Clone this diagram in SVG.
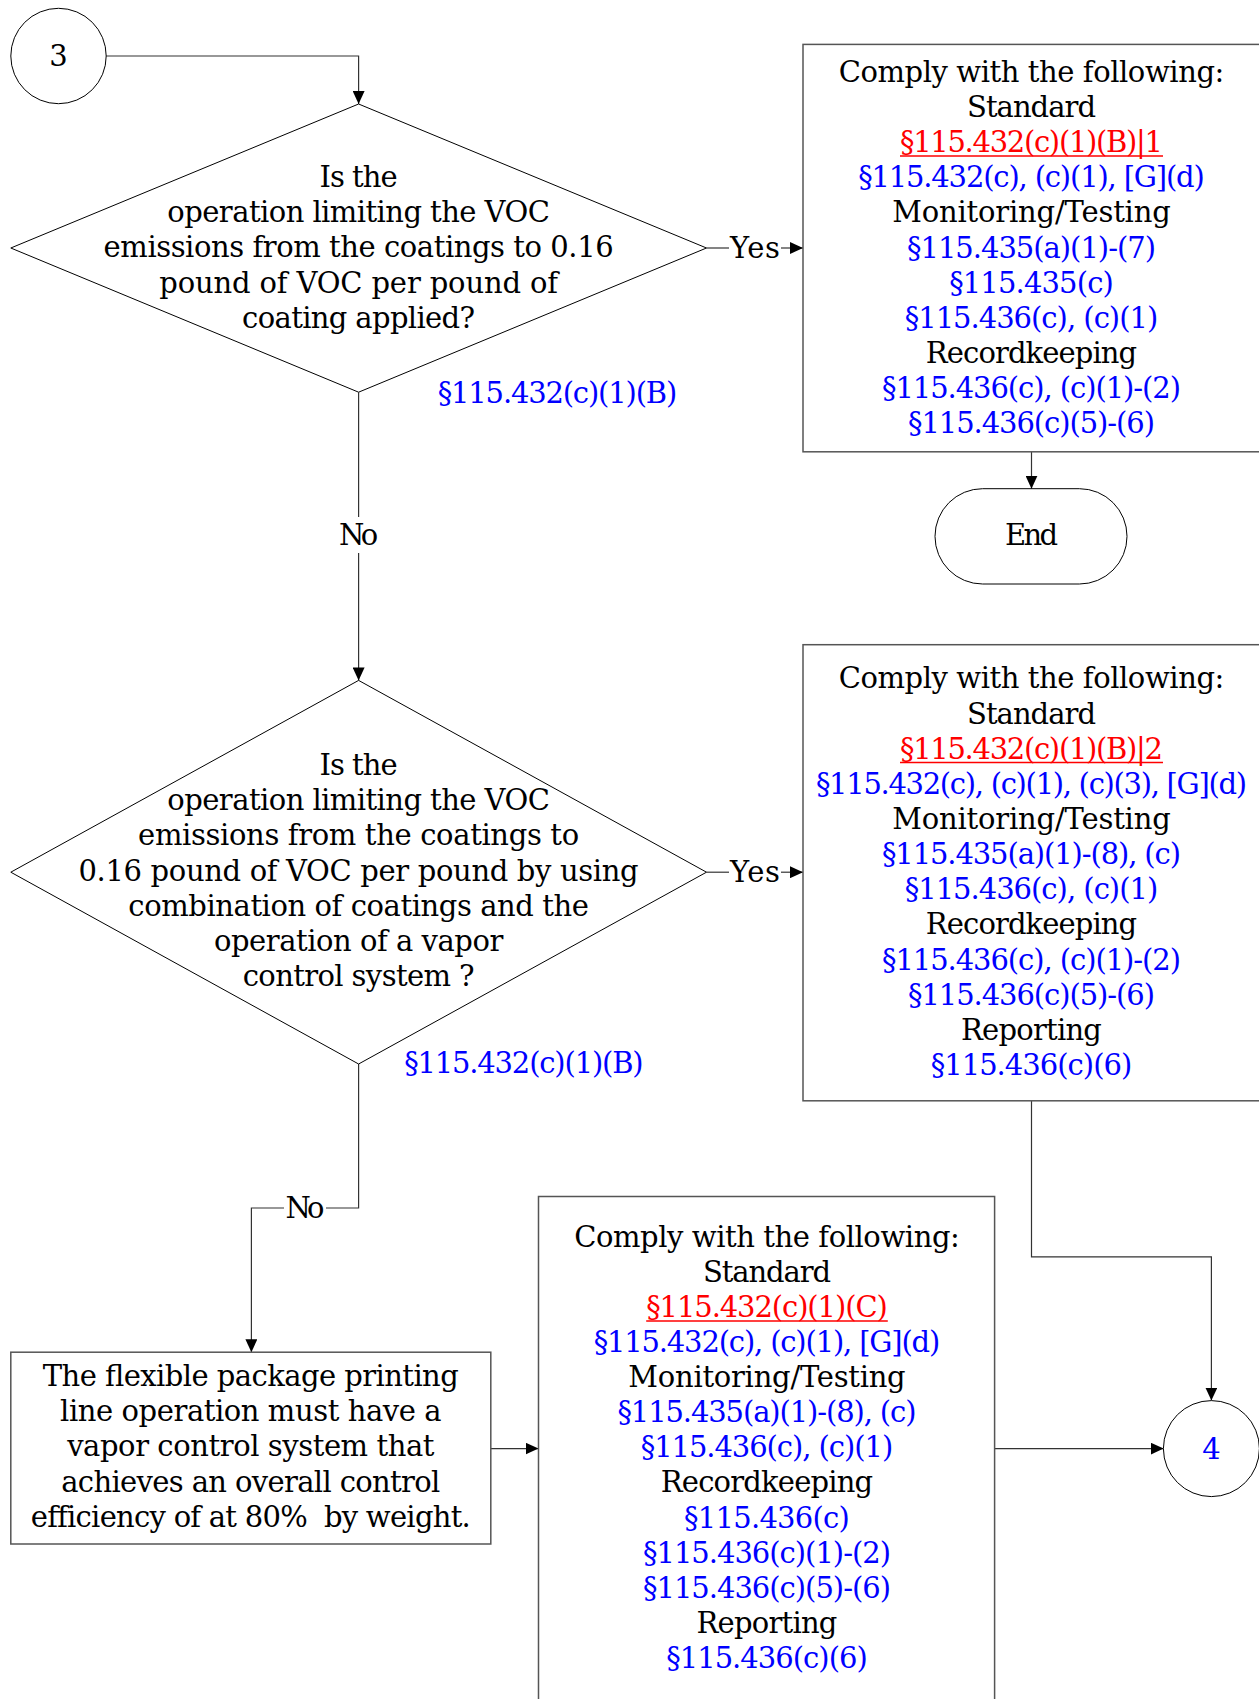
<svg xmlns="http://www.w3.org/2000/svg" width="1259" height="1699" viewBox="0 0 1259 1699">
<style>
text{font-family:"DejaVu Serif","Liberation Serif",serif;font-size:29px;text-anchor:middle;fill:#000}
.b{fill:#0000FF}
.r{fill:#FF0000}
.u{stroke:#FF0000;stroke-width:1.5}
.shape{fill:#fff;stroke:#000;stroke-width:1}
.box{fill:#fff;stroke:#555;stroke-width:1.5}
.c{fill:none;stroke:#333;stroke-width:1.2}
</style>
<defs>
<marker id="ah" markerUnits="userSpaceOnUse" markerWidth="14" markerHeight="12" refX="13" refY="6" orient="auto">
<path d="M0,0 L13,6 L0,12 Z" fill="#000"/>
</marker>
</defs>
<g id="connectors">
<path class="c" d="M106,56 H358.6 V104" marker-end="url(#ah)"/>
<path class="c" d="M706.5,248 H729"/>
<path class="c" d="M781,248 H803" marker-end="url(#ah)"/>
<path class="c" d="M1031.5,451.8 V488.7" marker-end="url(#ah)"/>
<path class="c" d="M358.6,392.2 V517"/>
<path class="c" d="M358.6,553 V680.4" marker-end="url(#ah)"/>
<path class="c" d="M706.5,872.2 H729"/>
<path class="c" d="M781,872.2 H803" marker-end="url(#ah)"/>
<path class="c" d="M358.6,1064 V1208 H326"/>
<path class="c" d="M284,1208 H251.4 V1352.2" marker-end="url(#ah)"/>
<path class="c" d="M1031.5,1100.8 V1256.9 H1211.4 V1400.6" marker-end="url(#ah)"/>
<path class="c" d="M490.8,1448.6 H538.5" marker-end="url(#ah)"/>
<path class="c" d="M994.6,1448.6 H1163.6" marker-end="url(#ah)"/>
<text x="755" y="258" textLength="50">Yes</text>
<text x="755" y="882" textLength="50">Yes</text>
<text x="358.6" y="545" textLength="39">No</text>
<text x="305" y="1218" textLength="39">No</text>
</g>
<g id="start3">
<ellipse class="shape" cx="58.5" cy="56" rx="47.7" ry="47.7"/>
<text x="58.5" y="66">3</text>
</g>
<g id="decision1">
<path class="shape" d="M358.6,104 L706.5,248 L358.6,392.2 L10.8,248 Z"/>
<text x="358.6" y="186.7" textLength="78">Is the</text>
<text x="358.6" y="222" textLength="382.5">operation limiting the VOC</text>
<text x="358.6" y="257.3" textLength="510">emissions from the coatings to 0.16</text>
<text x="358.6" y="292.6" textLength="398.7">pound of VOC per pound of</text>
<text x="358.6" y="328" textLength="233">coating applied?</text>
<text class="b" x="557.5" y="403" textLength="239.5">§115.432(c)(1)(B)</text>
</g>
<g id="comply1">
<rect class="box" x="803" y="44.4" width="460" height="407.4"/>
<text x="1031.5" y="82" textLength="385.7">Comply with the following:</text>
<text x="1031.5" y="117" textLength="129">Standard</text>
<text class="r" x="1031.5" y="152" textLength="263">§115.432(c)(1)(B)|1</text>
<line class="u" x1="900" y1="156" x2="1163" y2="156"/>
<text class="b" x="1031.5" y="187" textLength="346.7">§115.432(c), (c)(1), [G](d)</text>
<text x="1031.5" y="222" textLength="278.5">Monitoring/Testing</text>
<text class="b" x="1031.5" y="257.5" textLength="249">§115.435(a)(1)-(7)</text>
<text class="b" x="1031.5" y="292.5" textLength="164.7">§115.435(c)</text>
<text class="b" x="1031.5" y="327.5" textLength="253.5">§115.436(c), (c)(1)</text>
<text x="1031.5" y="363" textLength="211.3">Recordkeeping</text>
<text class="b" x="1031.5" y="398" textLength="299">§115.436(c), (c)(1)-(2)</text>
<text class="b" x="1031.5" y="433" textLength="247">§115.436(c)(5)-(6)</text>
</g>
<g id="end">
<rect class="shape" x="935" y="488.7" width="192" height="95.3" rx="47.6" ry="47.6"/>
<text x="1031.5" y="545" textLength="53">End</text>
</g>
<g id="decision2">
<path class="shape" d="M358.6,680.4 L706.5,872.2 L358.6,1064 L10.8,872.2 Z"/>
<text x="358.6" y="775" textLength="78">Is the</text>
<text x="358.6" y="810.2" textLength="382.5">operation limiting the VOC</text>
<text x="358.6" y="845.4" textLength="441">emissions from the coatings to</text>
<text x="358.6" y="880.5" textLength="560.2">0.16 pound of VOC per pound by using</text>
<text x="358.6" y="915.7" textLength="460.5">combination of coatings and the</text>
<text x="358.6" y="950.8" textLength="289.3">operation of a vapor</text>
<text x="358.6" y="986" textLength="231.9">control system ?</text>
<text class="b" x="523.9" y="1073" textLength="239.5">§115.432(c)(1)(B)</text>
</g>
<g id="comply2">
<rect class="box" x="803" y="644.7" width="460" height="456.1"/>
<text x="1031.5" y="688.3" textLength="385.7">Comply with the following:</text>
<text x="1031.5" y="723.5" textLength="129">Standard</text>
<text class="r" x="1031.5" y="758.6" textLength="263">§115.432(c)(1)(B)|2</text>
<line class="u" x1="900" y1="762.6" x2="1163" y2="762.6"/>
<text class="b" x="1031.5" y="793.8" textLength="431.2">§115.432(c), (c)(1), (c)(3), [G](d)</text>
<text x="1031.5" y="828.9" textLength="278.5">Monitoring/Testing</text>
<text class="b" x="1031.5" y="864.1" textLength="299">§115.435(a)(1)-(8), (c)</text>
<text class="b" x="1031.5" y="899.2" textLength="253.5">§115.436(c), (c)(1)</text>
<text x="1031.5" y="934.4" textLength="211.3">Recordkeeping</text>
<text class="b" x="1031.5" y="969.5" textLength="299">§115.436(c), (c)(1)-(2)</text>
<text class="b" x="1031.5" y="1004.7" textLength="247">§115.436(c)(5)-(6)</text>
<text x="1031.5" y="1039.8" textLength="140.9">Reporting</text>
<text class="b" x="1031.5" y="1075" textLength="201.5">§115.436(c)(6)</text>
</g>
<g id="vapor">
<rect class="box" x="10.8" y="1352.2" width="480" height="191.8"/>
<text x="250.8" y="1386" textLength="416">The flexible package printing</text>
<text x="250.8" y="1421.2" textLength="381.4">line operation must have a</text>
<text x="250.8" y="1456.4" textLength="367.3">vapor control system that</text>
<text x="250.8" y="1491.6" textLength="379.2">achieves an overall control</text>
<text x="250.8" y="1526.7" textLength="440" xml:space="preserve">efficiency of at 80%  by weight.</text>
</g>
<g id="comply3">
<rect class="box" x="538.5" y="1196.5" width="456.1" height="520"/>
<text x="767" y="1246.7" textLength="385.7">Comply with the following:</text>
<text x="767" y="1281.8" textLength="128">Standard</text>
<text class="r" x="767" y="1316.9" textLength="241.6">§115.432(c)(1)(C)</text>
<line class="u" x1="646.2" y1="1320.9" x2="887.8" y2="1320.9"/>
<text class="b" x="767" y="1352" textLength="346.7">§115.432(c), (c)(1), [G](d)</text>
<text x="767" y="1387.1" textLength="277.4">Monitoring/Testing</text>
<text class="b" x="767" y="1422.2" textLength="299">§115.435(a)(1)-(8), (c)</text>
<text class="b" x="767" y="1457.3" textLength="252.5">§115.436(c), (c)(1)</text>
<text x="767" y="1492.4" textLength="212.4">Recordkeeping</text>
<text class="b" x="767" y="1527.5" textLength="165.8">§115.436(c)</text>
<text class="b" x="767" y="1562.6" textLength="248">§115.436(c)(1)-(2)</text>
<text class="b" x="767" y="1597.7" textLength="248">§115.436(c)(5)-(6)</text>
<text x="767" y="1632.8" textLength="140.9">Reporting</text>
<text class="b" x="767" y="1668" textLength="201.5">§115.436(c)(6)</text>
</g>
<g id="connector4">
<ellipse class="shape" cx="1211.4" cy="1448.6" rx="48" ry="48"/>
<text class="b" x="1211.4" y="1459">4</text>
</g>
</svg>
